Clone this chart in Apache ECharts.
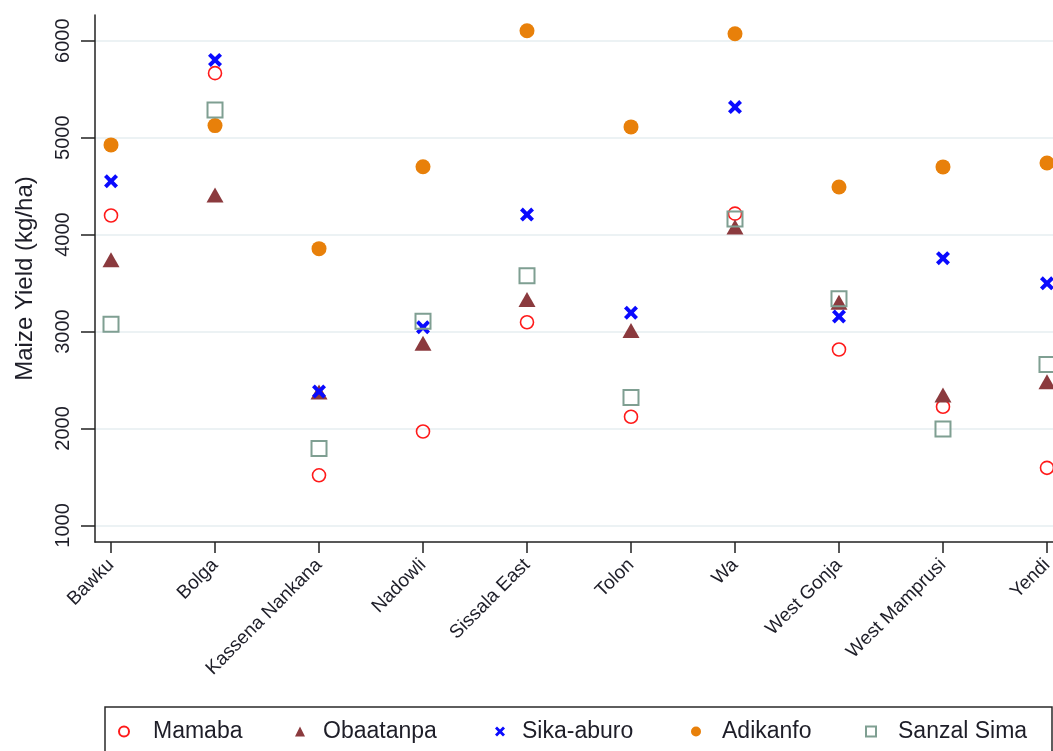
<!DOCTYPE html>
<html>
<head>
<meta charset="utf-8">
<script src="https://cdn.jsdelivr.net/npm/echarts@6/dist/echarts.min.js"></script>
<style>
  html, body { margin: 0; padding: 0; background: #ffffff; }
  #chart { width: 1053px; height: 751px; }
</style>
</head>
<body>
<div id="chart"></div>
<script>
// Districts along the x axis
const districts = ['Bawku', 'Bolga', 'Kassena Nankana', 'Nadowli', 'Sissala East',
  'Tolon', 'Wa', 'West Gonja', 'West Mamprusi', 'Yendi'];

// Maize yield (kg/ha) per variety, one value per district
const mamaba    = [4197, 5665, 1517, 1969, 3096, 2121, 4216, 2815, 2224, 1594];
const obaatanpa = [3740, 4409, 2375, 2879, 3330, 3010, 4078, 3302, 2345, 2483];
const sikaAburo = [4550, 5802, 2382, 3044, 4206, 3193, 5315, 3155, 3757, 3497];
const adikanfo  = [4925, 5124, 3855, 4700, 6103, 5111, 6072, 4491, 4698, 4738];
const sanzalSima = [3076, 5284, 1793, 3106, 3575, 2320, 4160, 3337, 1994, 2659];

// Y tick labels
const yTicks = [1000, 2000, 3000, 4000, 5000, 6000];

const FONT = '"Liberation Sans", Arial, sans-serif';
const TEXT = '#1e1e28';
const xPositions = districts.map((d, i) => i + 1);
const toPoints = vals => vals.map((v, i) => [i + 1, v]);

const crossPath = 'path://M0,2 L2,0 L5,3 L8,0 L10,2 L7,5 L10,8 L8,10 L5,7 L2,10 L0,8 L3,5 Z';

const seriesDefs = [
  { name: 'Mamaba', data: mamaba, symbol: 'circle', size: 13,
    itemStyle: { color: 'rgba(0,0,0,0)', borderColor: '#ff1a1a', borderWidth: 1.6, opacity: 1 },
    legendOffset: 19 },
  { name: 'Obaatanpa', data: obaatanpa, symbol: 'triangle', size: [17, 15],
    itemStyle: { color: '#8b3a3e', opacity: 1 }, legendOffset: 13 },
  { name: 'Sika-aburo', data: sikaAburo, symbol: crossPath, size: 14,
    itemStyle: { color: '#0a0aff', opacity: 1 }, legendOffset: 12 },
  { name: 'Adikanfo', data: adikanfo, symbol: 'circle', size: 15,
    itemStyle: { color: '#e8800a', opacity: 1 }, legendOffset: 16 },
  { name: 'Sanzal Sima', data: sanzalSima, symbol: 'rect', size: 15,
    itemStyle: { color: 'rgba(0,0,0,0)', borderColor: '#7f9f92', borderWidth: 2, opacity: 1 },
    legendOffset: 17 }
];

// legend icon centres along the bottom key
const legendIconX = [123, 300, 500, 696, 870];

const chart = echarts.init(document.getElementById('chart'), null, { renderer: 'canvas' });

const option = {
  backgroundColor: '#ffffff',
  animation: false,
  grid: { left: 95, top: 15, width: 968, height: 527, outerBoundsMode: 'none', containLabel: false },
  xAxis: {
    type: 'value',
    min: 0.846,
    max: 10.154,
    axisLine: { show: true, onZero: false, lineStyle: { color: '#222', width: 1.5 } },
    axisTick: { show: true, length: 11, customValues: xPositions,
      lineStyle: { color: '#222', width: 1.5 } },
    axisLabel: {
      customValues: xPositions,
      rotate: 45,
      margin: 20,
      fontSize: 19,
      fontFamily: FONT,
      color: TEXT,
      formatter: v => districts[Math.round(v) - 1] || ''
    },
    splitLine: { show: false }
  },
  yAxis: {
    type: 'value',
    min: 829,
    max: 6265,
    name: 'Maize Yield (kg/ha)',
    nameLocation: 'middle',
    nameRotate: 90,
    nameGap: 58,
    nameTextStyle: { fontSize: 24, fontFamily: FONT, color: TEXT },
    axisLine: { show: true, onZero: false, lineStyle: { color: '#222', width: 1.5 } },
    axisTick: { show: true, length: 14, customValues: yTicks,
      lineStyle: { color: '#222', width: 1.5 } },
    axisLabel: {
      customValues: yTicks,
      rotate: 90,
      margin: 22,
      fontSize: 20,
      fontFamily: FONT,
      color: TEXT,
      formatter: v => String(Math.round(v))
    },
    splitLine: { show: true, lineStyle: { color: '#e6eef1', width: 1.5 } }
  },
  legend: seriesDefs.map((s, i) => ({
    data: [{ name: s.name }],
    left: legendIconX[i] - 5,
    top: 720,
    padding: 0,
    itemWidth: 10,
    itemHeight: 10,
    textStyle: { fontSize: 23, fontFamily: FONT, color: TEXT, padding: [0, 0, 0, s.legendOffset] }
  })),
  graphic: [{
    type: 'rect',
    shape: { x: 105, y: 707, width: 947, height: 60 },
    style: { fill: 'none', stroke: '#2a2a2a', lineWidth: 1.5 },
    silent: true,
    z: 0
  }],
  series: seriesDefs.map(s => ({
    name: s.name,
    type: 'scatter',
    data: toPoints(s.data),
    symbol: s.symbol,
    symbolSize: s.size,
    itemStyle: s.itemStyle,
    emphasis: { disabled: true }
  }))
};

chart.setOption(option);
</script>
</body>
</html>
